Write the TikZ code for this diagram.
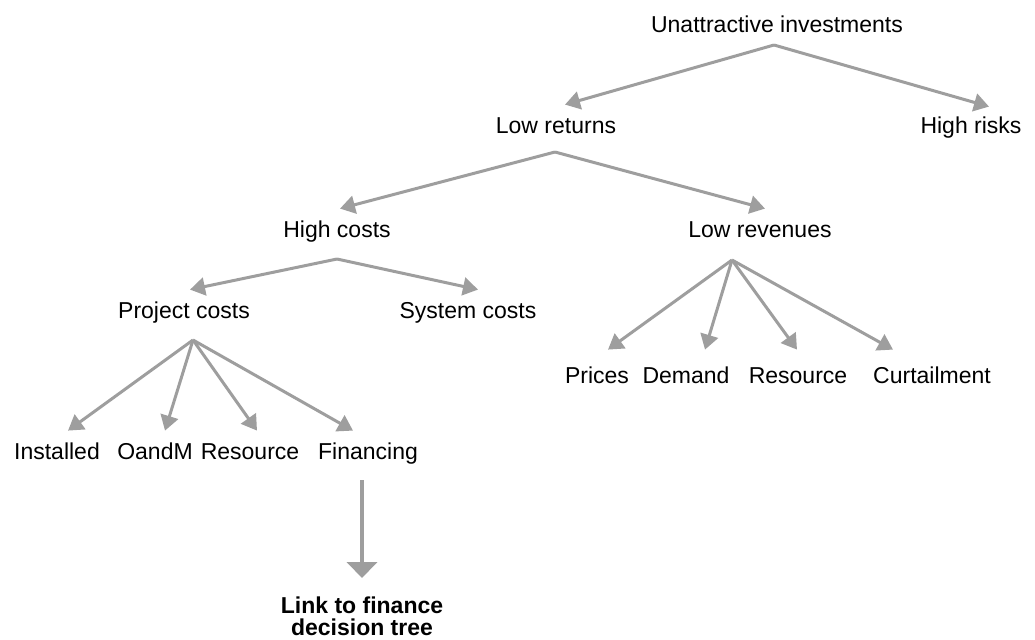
\documentclass[tikz,border=0pt]{standalone}
\usepackage{fontspec}
\setmainfont{Liberation Sans}
\usetikzlibrary{arrows.meta}
\definecolor{treegray}{HTML}{9E9E9E}
\tikzset{
	cause/.style={anchor=base, inner xsep=1pt, inner ysep=5.5pt, text height=8.5pt, text depth=2.5pt, font=\fontsize{11.5}{11.5}\selectfont},
	branch/.style={draw=treegray, line width=1.5pt, -{Triangle[length=7.5pt,width=9pt]}},
	linkarrow/.style={draw=treegray, line width=2.4pt, -{Triangle[length=8pt,width=15pt]}},
	linkbox/.style={anchor=north, inner sep=9pt, align=center, font=\bfseries\fontsize{11.5}{11}\selectfont}
}
\begin{document}
\begin{tikzpicture}[x=0.5pt,y=-0.5pt]
		\useasboundingbox (0,0) rectangle (1035,639);
		% first split
			\node [cause] (root) at (777,32) {Unattractive investments};
			\node [cause] (lowret) at (556,133) {Low returns};
			\node [cause] (highrisk) at (971,133) {High risks};
			\coordinate (rootfork) at (774,45);
			\draw [branch] (rootfork) -- ([xshift=4.5pt]lowret.north);
			\draw [branch] (rootfork) -- ([xshift=9pt,yshift=-1pt]highrisk.north);
		% returns
			\node [cause] (highcost) at (337,237) {High costs};
			\node [cause] (lowrev) at (760,237) {Low revenues};
			\coordinate (retfork) at (555,152);
			\draw [branch] (retfork) -- ([xshift=1.5pt]highcost.north);
			\draw [branch] (retfork) -- ([xshift=2.5pt]lowrev.north);
		% costs
			\node [cause] (projcost) at (184,318) {Project costs};
			\node [cause] (syscost) at (468,318) {System costs};
			\coordinate (costfork) at (337,259);
			\draw [branch] (costfork) -- ([xshift=3pt]projcost.north);
			\draw [branch] (costfork) -- ([xshift=5pt]syscost.north);
		% project cost items
			\node [cause] (installed) at (57,459) {Installed};
			\node [cause] (oandm) at (155,459) {OandM};
			\node [cause] (resproj) at (250,459) {Resource};
			\node [cause] (financing) at (368,459) {Financing};
			\coordinate (projfork) at (193,340);
			\draw [branch] (projfork) -- ([xshift=5.5pt]installed.north);
			\draw [branch] (projfork) -- ([xshift=5pt]oandm.north);
			\draw [branch] (projfork) -- ([xshift=3.5pt]resproj.north);
			\draw [branch] (projfork) -- ([xshift=-7.5pt]financing.north);
		% revenue items
			\node [cause] (prices) at (597,383) {Prices};
			\node [cause] (demand) at (686,383) {Demand};
			\node [cause] (resrev) at (798,383) {Resource};
			\node [cause] (curtail) at (932,383) {Curtailment};
			\coordinate (revfork) at (732,260);
			\draw [branch] (revfork) -- ([xshift=5.5pt,yshift=2.5pt]prices.north);
			\draw [branch] (revfork) -- ([xshift=9.5pt,yshift=2.5pt]demand.north);
			\draw [branch] (revfork) -- ([xshift=-0.5pt,yshift=2.5pt]resrev.north);
			\draw [branch] (revfork) -- ([xshift=-19.5pt,yshift=2.5pt]curtail.north);
		% link down to the finance tree
			\node [linkbox] (link) at (362,578) {Link to finance\\decision tree};
			\draw [linkarrow, shorten <=2.5pt] (link.north |- financing.south) -- (link.north);
	\end{tikzpicture}
\end{document}
